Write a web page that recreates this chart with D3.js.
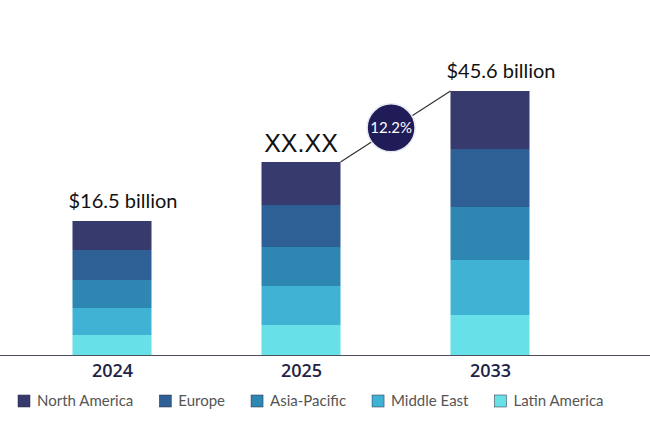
<!DOCTYPE html>
<html>
<head>
<meta charset="utf-8">
<script src="https://cdn.jsdelivr.net/npm/d3@7"></script>
<style>
  html, body { margin: 0; padding: 0; background: #fff; }
  svg { display: block; }
</style>
</head>
<body>
<div id="chart"></div>
<script>
// Categories and series (segment heights, bottom to top)
const years = ['2024', '2025', '2033'];
const regions = ['North America', 'Europe', 'Asia-Pacific', 'Middle East', 'Latin America'];
const colors = ['#363a6c', '#2e5f95', '#2e87b3', '#40b3d5', '#67e0e8'];

const northAmerica = [29, 43, 58];
const europe       = [30, 42, 58];
const asiaPacific  = [28, 39, 53];
const middleEast   = [27, 39, 55];
const latinAmerica = [20, 30, 40];

const valueLabels = ['$16.5 billion', 'XX.XX', '$45.6 billion'];
const cagrLabel = '12.2%';

const width = 650, height = 435;
const baseY = 355;

// Build rows for the stack
const rows = years.map((y, i) => ({
  year: y,
  'North America': northAmerica[i],
  'Europe': europe[i],
  'Asia-Pacific': asiaPacific[i],
  'Middle East': middleEast[i],
  'Latin America': latinAmerica[i]
}));

// stack from the bottom: Latin America first
const stackOrder = regions.slice().reverse();
const series = d3.stack().keys(stackOrder)(rows);
const color = d3.scaleOrdinal().domain(regions).range(colors);

const x = d3.scalePoint().domain(years).range([112, 490]);
const barW = 79;
const y = d3.scaleLinear().domain([0, 280]).range([baseY, baseY - 280]);

const svg = d3.select('#chart').append('svg')
  .attr('width', width)
  .attr('height', height);

// Bars
svg.append('g')
  .selectAll('g')
  .data(series)
  .join('g')
  .attr('fill', d => color(d.key))
  .selectAll('rect')
  .data(d => d)
  .join('rect')
  .attr('x', d => x(d.data.year) - barW / 2)
  .attr('y', d => y(d[1]))
  .attr('width', barW)
  .attr('height', d => y(d[0]) - y(d[1]));

// Baseline
svg.append('line')
  .attr('x1', 0).attr('x2', width)
  .attr('y1', baseY + 0.5).attr('y2', baseY + 0.5)
  .attr('stroke', '#4d4f5c')
  .attr('stroke-width', 1.2);

// X axis labels
const xAxis = svg.append('g')
  .attr('transform', `translate(0,${baseY})`)
  .call(d3.axisBottom(x).tickSize(0).tickPadding(9));
xAxis.select('.domain').remove();
xAxis.selectAll('text')
  .attr('font-family', '"Open Sans", Lato, sans-serif')
  .attr('font-size', 18)
  .attr('font-weight', 600)
  .attr('fill', '#1f2446');

// Totals for the value labels
const totals = rows.map((r, i) => northAmerica[i] + europe[i] + asiaPacific[i] + middleEast[i] + latinAmerica[i]);

const labelG = svg.append('g')
  .attr('fill', '#111');

labelG.selectAll('text')
  .data(valueLabels)
  .join('text')
  .attr('x', (d, i) => x(years[i]) + (i === 1 ? 0 : 11))
  .attr('y', (d, i) => y(totals[i]) - (i === 1 ? 10 : 13))
  .attr('text-anchor', 'middle')
  .attr('font-family', (d, i) => i === 1 ? '"Liberation Sans", Arial, sans-serif' : 'Lato, "Open Sans", sans-serif')
  .attr('font-size', (d, i) => i === 1 ? 25 : 20)
  .text(d => d);

// Growth connector from 2025 to 2033
const p1 = [x(years[1]) + barW / 2, y(totals[1])];
const p2 = [x(years[2]) - barW / 2, y(totals[2])];
svg.append('line')
  .attr('x1', p1[0]).attr('y1', p1[1])
  .attr('x2', p2[0]).attr('y2', p2[1])
  .attr('stroke', '#333')
  .attr('stroke-width', 1.2);

const cx = p1[0] + (p2[0] - p1[0]) * 0.46;
const cy = p1[1] + (p2[1] - p1[1]) * 0.46 - 1.5;
svg.append('circle')
  .attr('cx', cx).attr('cy', cy)
  .attr('r', 24)
  .attr('fill', '#1f1c58')
  .attr('stroke', '#e8e8f0')
  .attr('stroke-width', 1.5);
svg.append('text')
  .attr('x', cx).attr('y', cy + 5.5)
  .attr('text-anchor', 'middle')
  .attr('font-family', 'Lato, "Open Sans", sans-serif')
  .attr('font-size', 15)
  .attr('fill', '#fff')
  .text(cagrLabel);

// Legend, laid out by measured text widths
const legend = svg.append('g')
  .attr('transform', 'translate(18,401)');
let lx = 0;
regions.forEach(r => {
  const item = legend.append('g').attr('transform', `translate(${lx},0)`);
  item.append('rect')
    .attr('x', 0).attr('y', -6)
    .attr('width', 12).attr('height', 12)
    .attr('fill', color(r))
    .attr('stroke', '#2a2a40')
    .attr('stroke-width', 0.5);
  const t = item.append('text')
    .attr('x', 19).attr('y', 5)
    .attr('font-family', 'Lato, "Open Sans", sans-serif')
    .attr('font-size', 15)
    .attr('fill', '#555')
    .text(r);
  lx += 19 + t.node().getComputedTextLength() + 26;
});
</script>
</body>
</html>
